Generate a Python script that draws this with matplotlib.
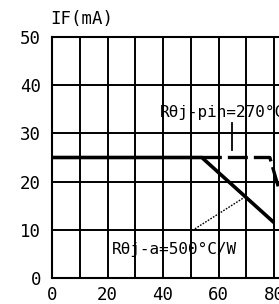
import matplotlib
matplotlib.use('Agg')

import matplotlib.pyplot as plt

# derating curves
temp_ja = [0, 54, 80]
if_ja = [25, 25, 11.5]
temp_pin = [54, 78.5, 82]
if_pin = [25, 25, 18]

x_ticks = [0, 20, 40, 60, 80]
y_ticks = [0, 10, 20, 30, 40, 50]

label_ja = "R\u03b8j-a=500\u00b0C/W"
label_pin = "R\u03b8j-pin=270\u00b0C/W"
# leader lines (x, y)
lead_ja_x = [51.5, 69.5]
lead_ja_y = [10.2, 16.8]
lead_pin_x = [65, 65]
lead_pin_y = [26.5, 32.2]

mono = 'DejaVu Sans Mono'

fig = plt.figure(figsize=(2.79, 3.04), dpi=100)
ax = fig.add_axes([52 / 279, 26 / 304, 82 * 2.775 / 279, 241 / 304])

ax.set_xlim(0, 82)
ax.set_ylim(0, 50)
ax.set_xticks(range(0, 81, 10))
ax.set_yticks(range(0, 51, 10))
ax.set_xticklabels([str(v) if v in x_ticks else "" for v in range(0, 81, 10)])
ax.set_yticklabels([str(v) for v in y_ticks])
ax.tick_params(length=0, labelsize=12.5)
ax.tick_params(axis='y', pad=8)
ax.tick_params(axis='x', pad=6)
for lbl in ax.get_xticklabels() + ax.get_yticklabels():
    lbl.set_family(mono)
ax.grid(True, color='black', linewidth=1.4)
for s in ['top', 'left', 'bottom']:
    ax.spines[s].set_linewidth(1.5)
ax.spines['right'].set_visible(False)

ax.plot(temp_ja, if_ja, color='black', linewidth=2.6, solid_capstyle='butt')
ax.plot(temp_pin, if_pin, color='black', linewidth=2.4, linestyle=(0, (6, 1.8)))

ax.plot(lead_ja_x, lead_ja_y, color='black', linewidth=1.0, linestyle=(0, (1.2, 1.0)))
ax.plot(lead_pin_x, lead_pin_y, color='black', linewidth=1.3)

ax.text(21.6, 6.0, label_ja, fontsize=11.5, family=mono, va='center', ha='left')
ax.text(38.9, 34.4, label_pin, fontsize=11.5, family=mono, va='center', ha='left',
        clip_on=False)

fig.text(50 / 279, 1 - 19 / 304, "IF(mA)", fontsize=12.5, family=mono,
         va='center', ha='left')

fig.savefig("out.png", dpi=100)
